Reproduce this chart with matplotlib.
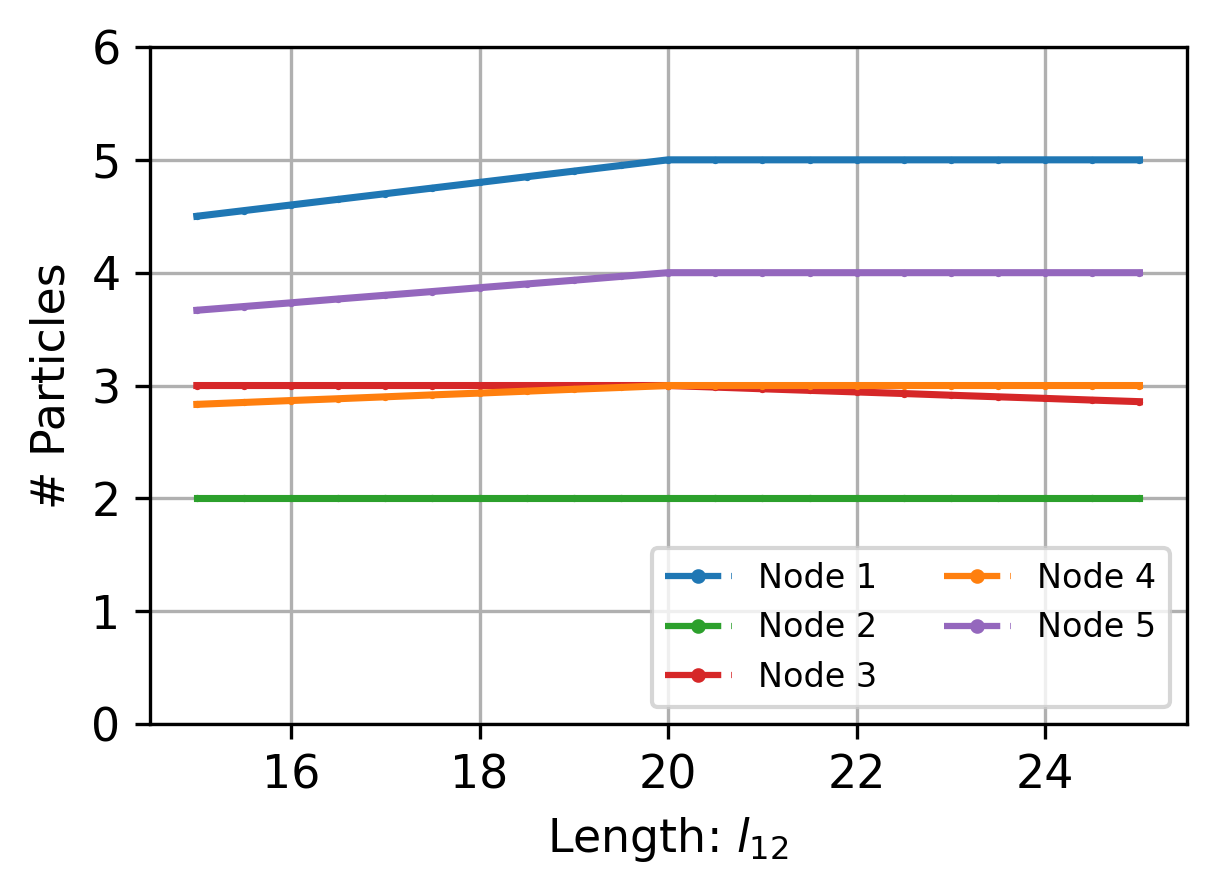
import matplotlib.pyplot as plt
from matplotlib.lines import Line2D

# Length l_12 values
lengths = [15.0, 15.5, 16.0, 16.5, 17.0, 17.5, 18.0, 18.5, 19.0, 19.5, 20.0,
           20.5, 21.0, 21.5, 22.0, 22.5, 23.0, 23.5, 24.0, 24.5, 25.0]

node1 = [4.5, 4.55, 4.6, 4.65, 4.7, 4.75, 4.8, 4.85, 4.9, 4.95, 5.0,
         5.0, 5.0, 5.0, 5.0, 5.0, 5.0, 5.0, 5.0, 5.0, 5.0]
node2 = [2.0, 2.0, 2.0, 2.0, 2.0, 2.0, 2.0, 2.0, 2.0, 2.0, 2.0,
         2.0, 2.0, 2.0, 2.0, 2.0, 2.0, 2.0, 2.0, 2.0, 2.0]
node3 = [3.0, 3.0, 3.0, 3.0, 3.0, 3.0, 3.0, 3.0, 3.0, 3.0, 3.0,
         2.986, 2.971, 2.957, 2.943, 2.929, 2.914, 2.9, 2.886, 2.871, 2.857]
node4 = [2.833, 2.85, 2.867, 2.883, 2.9, 2.917, 2.933, 2.95, 2.967, 2.983, 3.0,
         3.0, 3.0, 3.0, 3.0, 3.0, 3.0, 3.0, 3.0, 3.0, 3.0]
node5 = [3.667, 3.7, 3.733, 3.767, 3.8, 3.833, 3.867, 3.9, 3.933, 3.967, 4.0,
         4.0, 4.0, 4.0, 4.0, 4.0, 4.0, 4.0, 4.0, 4.0, 4.0]

series = [
    ("Node 1", node1, "tab:blue"),
    ("Node 2", node2, "tab:green"),
    ("Node 3", node3, "tab:red"),
    ("Node 4", node4, "tab:orange"),
    ("Node 5", node5, "tab:purple"),
]

fig, ax = plt.subplots(figsize=(1217 / 300, 895 / 300), dpi=300)
fig.subplots_adjust(left=0.123, right=0.975, top=0.9475, bottom=0.191)

handles = []
for label, values, color in series:
    ax.plot(lengths, values, color=color, linewidth=1.7,
            marker=".", markersize=1.5)
    # legend entries show the dashed style with dot markers
    handles.append(Line2D([], [], color=color, linewidth=1.5,
                          dashes=(9, 1.6), marker=".", markersize=5,
                          label=label))

ax.set_ylim(0, 6)
ax.grid(True)
ax.tick_params(labelsize=11)
ax.set_xlabel("Length: $l_{12}$", fontsize=11)
ax.set_ylabel("# Particles", fontsize=11)
ax.legend(handles=handles, loc="lower right", ncol=2, fontsize=8)

fig.savefig("out.png", dpi=300)
